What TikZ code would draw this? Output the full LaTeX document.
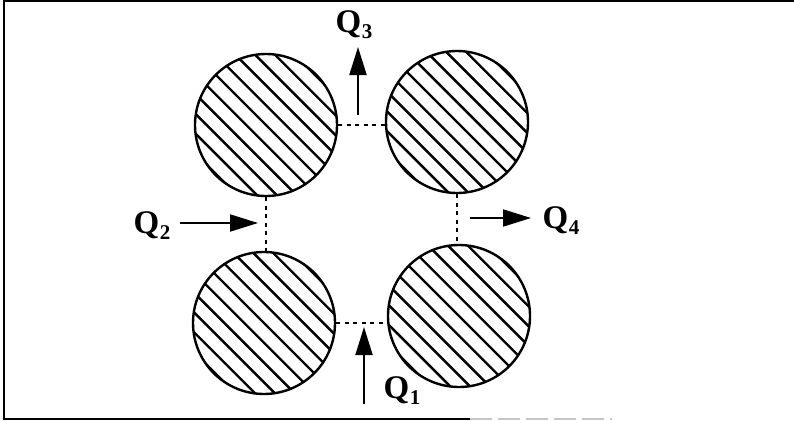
\documentclass[tikz,border=0pt]{standalone}
\usepackage{fontspec}
\setmainfont{Liberation Serif}
\usetikzlibrary{calc,arrows.meta}
\newcommand{\qlab}[1]{Q\kern0.5pt\raisebox{-6pt}{\fontsize{21}{21}\selectfont #1}}
\tikzset{
  disc/.style={circle, draw, line width=2.4pt, minimum size=142pt, inner sep=0pt,
    path picture={
      \foreach \d in {-84,-70,...,84} {
        \draw[line width=2.4pt]
          ($(path picture bounding box.center)+(0.7071*\d-60,-0.7071*\d-60)$) --
          ($(path picture bounding box.center)+(0.7071*\d+60,-0.7071*\d+60)$);
      }}},
  gap/.style={line width=1.7pt, dash pattern=on 4pt off 4.5pt},
  flow/.style={line width=2pt, -{Triangle[length=28pt,width=17pt]}},
  qlabel/.style={font=\fontsize{33}{33}\selectfont\bfseries, inner sep=1pt},
  frame/.style={line width=2pt}
}
\begin{document}
\begin{tikzpicture}[x=1pt,y=-1pt]
\useasboundingbox (0,0) rectangle (794,420);
% frame
\draw[frame] (794,1.5) -- (4,1.5) -- (4,419) -- (470,419);
\draw[line width=1.5pt, gray!45, dash pattern=on 22pt off 6pt] (470,419) -- (612,419);
% discs
\node[disc] (tl) at (266,125) {};
\node[disc] (tr) at (457,122) {};
\node[disc] (bl) at (264,323) {};
\node[disc] (br) at (459,316) {};
% gaps
\draw[gap] (tl.east) -- (tl.east -| tr.west);
\draw[gap] (bl.east) -- (bl.east -| br.west);
\draw[gap] (tl.south) -- (tl.south |- bl.north);
\draw[gap] (tr.south) -- (tr.south |- br.north);
% labels
\node[qlabel] (q3) at (354,25) {\qlab{3}};
\node[qlabel] (q2) at (152,226) {\qlab{2}};
\node[qlabel] (q4) at (561,221) {\qlab{4}};
\node[qlabel] (q1) at (402,391) {\qlab{1}};
% arrow ends
\coordinate (q3s) at (358,115);
\coordinate (q3t) at (358,47);
\coordinate (q2s) at (180,223);
\coordinate (q2t) at (258,223);
\coordinate (q4s) at (470,218);
\coordinate (q4t) at (531,218);
\coordinate (q1s) at (364,404);
\coordinate (q1t) at (364,327);
\draw[flow] (q3s) -- (q3t);
\draw[flow] (q2s) -- (q2t);
\draw[flow] (q4s) -- (q4t);
\draw[flow] (q1s) -- (q1t);
\end{tikzpicture}
\end{document}
